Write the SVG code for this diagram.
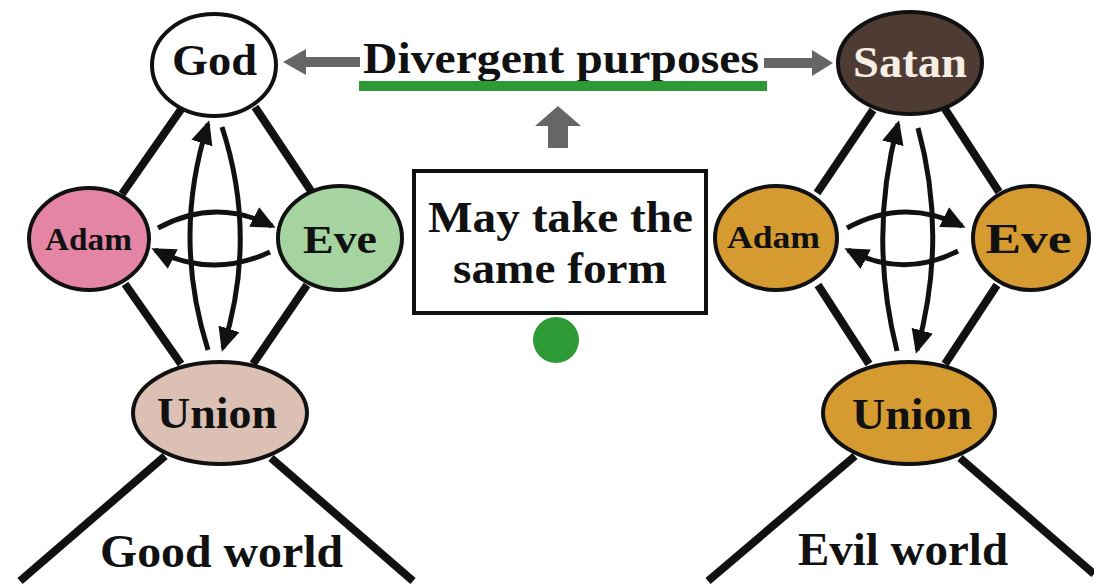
<svg xmlns="http://www.w3.org/2000/svg" width="1094" height="587" viewBox="0 0 1094 587">
<style>
  .t { font-family: "Liberation Serif", "Times New Roman", serif; font-weight: bold; text-anchor: middle; fill: #111; }
  .node { stroke: #111; stroke-width: 4; }
  .edge { stroke: #111; stroke-width: 8; fill: none; stroke-linecap: butt; }
  .arc { stroke: #111; stroke-width: 5; fill: none; marker-end: url(#ah); }
  .gray { fill: #666; }
</style>
<defs>
  <marker id="ah" markerUnits="userSpaceOnUse" markerWidth="24" markerHeight="22" refX="20" refY="11" orient="auto" viewBox="0 0 24 22">
    <path d="M0,0 L24,11 L0,22 z" fill="#111"/>
  </marker>
</defs>
<rect width="1094" height="587" fill="#fff"/>

<g id="connectors">
  <!-- left structural lines -->
  <line class="edge" x1="182" y1="108" x2="122" y2="194"/>
  <line class="edge" x1="255" y1="107" x2="311" y2="191"/>
  <line class="edge" x1="125" y1="284" x2="181" y2="364"/>
  <line class="edge" x1="307" y1="285" x2="253" y2="364"/>
  <line class="edge" x1="165" y1="456" x2="20" y2="581"/>
  <line class="edge" x1="271" y1="458" x2="413" y2="581"/>
  <!-- right structural lines -->
  <line class="edge" x1="873" y1="110" x2="817" y2="193"/>
  <line class="edge" x1="945" y1="109" x2="999" y2="192"/>
  <line class="edge" x1="818" y1="285" x2="869" y2="364"/>
  <line class="edge" x1="997" y1="285" x2="945" y2="364"/>
  <line class="edge" x1="855" y1="456" x2="708" y2="581"/>
  <line class="edge" x1="960" y1="458" x2="1094" y2="574"/>
  <!-- left arcs -->
  <path class="arc" d="M208,350 Q172,236 208,124"/>
  <path class="arc" d="M222,127 Q258,237 223,348"/>
  <path class="arc" d="M158,228 Q215,197 272,226"/>
  <path class="arc" d="M270,252 Q212,279 155,250"/>
  <!-- right arcs -->
  <path class="arc" d="M897,351 Q868,236 898,124"/>
  <path class="arc" d="M918,128 Q948,237 917,350"/>
  <path class="arc" d="M847,228 Q904,197 962,226"/>
  <path class="arc" d="M958,251 Q903,279 848,250"/>
  <!-- gray arrows -->
  <rect class="gray" x="304" y="57" width="56" height="10"/>
  <polygon class="gray" points="283,62 306,49 306,75"/>
  <rect class="gray" x="764" y="58" width="50" height="10"/>
  <polygon class="gray" points="833,63 812,50 812,76"/>
  <rect class="gray" x="548" y="124" width="20" height="24"/>
  <polygon class="gray" points="558,106 535,126 581,126"/>
</g>

<g id="god">
  <ellipse class="node" cx="214" cy="65" rx="62" ry="51" fill="#fff"/>
  <text class="t" x="214.5" y="75" font-size="44" textLength="85" lengthAdjust="spacingAndGlyphs">God</text>
</g>
<g id="adam-good">
  <ellipse class="node" cx="89" cy="239" rx="60" ry="51" fill="#e585a6"/>
  <text class="t" x="88.5" y="250" font-size="31" textLength="87" lengthAdjust="spacingAndGlyphs">Adam</text>
</g>
<g id="eve-good">
  <ellipse class="node" cx="340" cy="238" rx="62" ry="52" fill="#a6d4a0"/>
  <text class="t" x="340" y="253" font-size="41" textLength="74" lengthAdjust="spacingAndGlyphs">Eve</text>
</g>
<g id="union-good">
  <ellipse class="node" cx="220" cy="413" rx="87" ry="51" fill="#dbc0b3"/>
  <text class="t" x="217" y="428" font-size="44" textLength="120" lengthAdjust="spacingAndGlyphs">Union</text>
</g>
<g id="good-world">
  <text class="t" x="221.5" y="567" font-size="46" textLength="243" lengthAdjust="spacingAndGlyphs">Good world</text>
</g>

<g id="satan">
  <ellipse class="node" cx="910" cy="63" rx="72" ry="51" fill="#4e3c34"/>
  <text class="t" x="910" y="77" font-size="45" textLength="114" lengthAdjust="spacingAndGlyphs" style="fill:#f6eee2">Satan</text>
</g>
<g id="adam-evil">
  <ellipse class="node" cx="776" cy="238" rx="61" ry="52" fill="#d59b30"/>
  <text class="t" x="773.5" y="248" font-size="31" textLength="93" lengthAdjust="spacingAndGlyphs">Adam</text>
</g>
<g id="eve-evil">
  <ellipse class="node" cx="1031" cy="238" rx="58" ry="52" fill="#d59b30"/>
  <text class="t" x="1028.5" y="253" font-size="42" textLength="86" lengthAdjust="spacingAndGlyphs">Eve</text>
</g>
<g id="union-evil">
  <ellipse class="node" cx="909" cy="413" rx="86" ry="51" fill="#d59b30"/>
  <text class="t" x="912" y="429" font-size="44" textLength="120" lengthAdjust="spacingAndGlyphs">Union</text>
</g>
<g id="evil-world">
  <text class="t" x="903" y="565" font-size="46" textLength="210" lengthAdjust="spacingAndGlyphs">Evil world</text>
</g>

<g id="divergent">
  <text class="t" x="561" y="73" font-size="45" textLength="396" lengthAdjust="spacingAndGlyphs">Divergent purposes</text>
  <rect x="359" y="81" width="408" height="10" fill="#2e9a35"/>
</g>
<g id="same-form">
  <rect x="414" y="171" width="292" height="142" fill="#fff" stroke="#111" stroke-width="4"/>
  <text class="t" x="560.5" y="232" font-size="45" textLength="265" lengthAdjust="spacingAndGlyphs">May take the</text>
  <text class="t" x="560" y="283" font-size="45" textLength="214" lengthAdjust="spacingAndGlyphs">same form</text>
</g>
<g id="dot">
  <circle cx="556" cy="340" r="23" fill="#2e9a35"/>
</g>
</svg>
